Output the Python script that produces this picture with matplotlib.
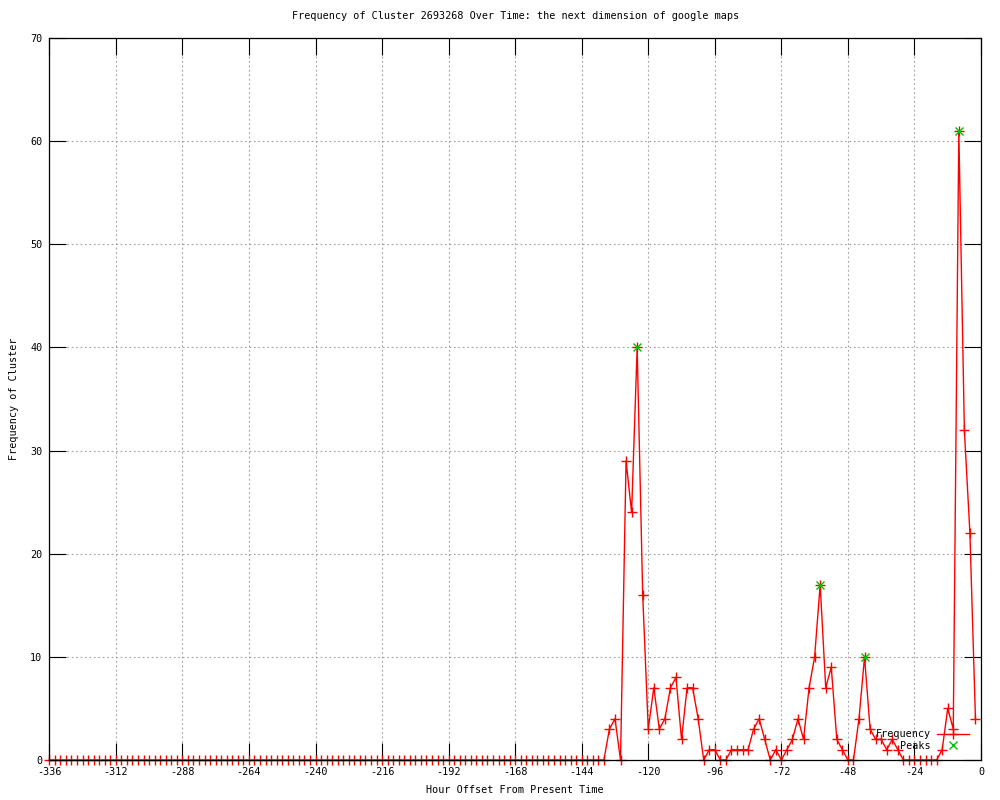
import numpy as np
import matplotlib
matplotlib.use('Agg')
import matplotlib.pyplot as plt

plt.rcParams['font.family'] = ['DejaVu Sans Mono']
plt.rcParams['axes.unicode_minus'] = False

# hour offsets, one sample every 2 hours
hours = list(range(-336, 0, 2))

# frequency of the cluster at each hour offset (zeros until -136)
freq = [0] * 101 + [
    3, 4, 0, 29, 24, 40, 16, 3, 7, 3,
    4, 7, 8, 2, 7, 7, 4, 0, 1, 1,
    0, 0, 1, 1, 1, 1, 3, 4, 2, 0,
    1, 0, 1, 2, 4, 2, 7, 10, 17, 7,
    9, 2, 1, 0, 0, 4, 10, 3, 2, 2,
    1, 2, 1, 0, 0, 0, 0, 0, 0, 0,
    1, 5, 3, 61, 32, 22, 4,
]

# detected peaks
peak_hours = [-124, -58, -42, -8]
peak_freq = [40, 17, 10, 61]

xticks = list(range(-336, 1, 24))
yticks = list(range(0, 71, 10))

fig = plt.figure(figsize=(10, 8), dpi=100)
ax = fig.add_axes([0.0493, 0.05, 0.9317, 0.9025])

ax.plot(hours, freq, color='red', linewidth=1, marker='+', markersize=7,
        markeredgewidth=1, label='Frequency', clip_on=False, zorder=2)
ax.plot(peak_hours, peak_freq, linestyle='none', color='#00c000', marker='x',
        markersize=5.5, markeredgewidth=1, label='Peaks', clip_on=False, zorder=3)

ax.set_xlim(-336, 0)
ax.set_ylim(0, 70)
ax.set_xticks(xticks)
ax.set_yticks(yticks)
ax.tick_params(direction='in', length=12, width=0.8, top=True, right=True,
               labelsize=7.3, pad=5, colors='black')

# dotted grey grid on the major ticks
ax.grid(True, color='#a0a0a0', linestyle=(0, (1.5, 2.5)), linewidth=0.8)
ax.set_axisbelow(True)

for s in ax.spines.values():
    s.set_linewidth(0.9)
    s.set_color('black')

ax.set_title('Frequency of Cluster 2693268 Over Time: the next dimension of google maps',
             fontsize=7.3, pad=14)
ax.set_xlabel('Hour Offset From Present Time', fontsize=7.3, labelpad=6)
ax.set_ylabel('Frequency of Cluster', fontsize=7.3, labelpad=8)

ax.legend(loc='lower right', bbox_to_anchor=(0.995, 0.003), frameon=False,
          markerfirst=False, fontsize=7.3, handlelength=3.2, handletextpad=0.6,
          labelspacing=0.15, borderpad=0.2)

plt.savefig('out.png', dpi=100)
